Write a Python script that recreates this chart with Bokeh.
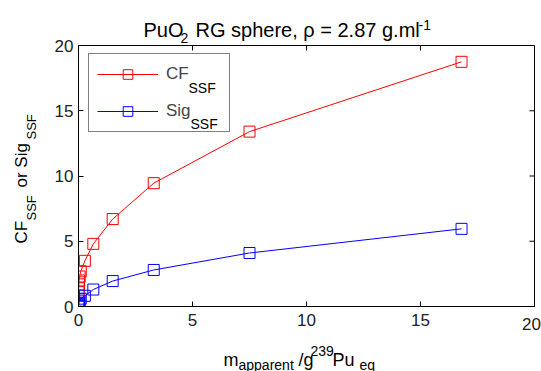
import math
from bokeh.plotting import figure
from bokeh.models import Range1d, FixedTicker, Legend, LegendItem
from bokeh.embed import file_html
from bokeh.resources import INLINE
from bokeh.core.properties import value

# ---- data ----
mass = [0.005, 0.01, 0.02, 0.03, 0.05, 0.1, 0.28, 0.65, 1.5, 3.3, 7.5, 16.8]
cf_ssf = [1.1, 1.4, 1.7, 2.0, 2.3, 2.7, 3.5, 4.8, 6.7, 9.45, 13.4, 18.75]
sig_ssf = [0.03, 0.1, 0.2, 0.3, 0.45, 0.6, 0.82, 1.3, 1.95, 2.8, 4.1, 5.95]
ticks = [0, 5, 10, 15, 20]
x_lo, x_hi = 0, 20
y_lo, y_hi = 0, 20

FONT = "Liberation Sans"
FL, FB = 78, 306  # frame left / bottom in page pixels

p = figure(width=541, height=371, output_backend="svg", toolbar_location=None,
           x_range=Range1d(x_lo, x_hi), y_range=Range1d(y_lo, y_hi), title=None,
           min_border_left=78, min_border_right=7, min_border_top=45,
           min_border_bottom=65, background_fill_color="white",
           border_fill_color="white")
p.grid.visible = False
p.outline_line_color = "black"
p.outline_line_width = 1

for ax in (p.xaxis[0], p.yaxis[0]):
    ax.ticker = FixedTicker(ticks=ticks)
    ax.major_tick_in = 5
    ax.major_tick_out = 0
    ax.minor_tick_line_color = None
    ax.axis_line_color = "black"
    ax.major_tick_line_color = "black"
    ax.major_label_text_font = FONT
    ax.major_label_text_font_size = "17px"
    ax.major_label_text_color = "#222222"
p.xaxis[0].major_label_standoff = 7
p.yaxis[0].major_label_standoff = 5
# the last x tick label is drawn separately so it may hang over the frame edge
p.xaxis[0].major_label_overrides = {x_hi: ""}

# inward ticks on the top and right edges (box on)
p.ray(x=ticks, y=[y_hi] * len(ticks), length=5, length_units="screen",
      angle=-math.pi / 2, line_color="black", line_width=1)
p.ray(x=[x_hi] * len(ticks), y=ticks, length=5, length_units="screen",
      angle=math.pi, line_color="black", line_width=1)

red = "#ff0000"
blue = "#0000ff"
l1 = p.line(mass, cf_ssf, line_color=red, line_width=1)
s1 = p.scatter(mass, cf_ssf, marker="square", size=11, line_color=red,
               fill_color=None, line_width=1)
l2 = p.line(mass, sig_ssf, line_color=blue, line_width=1)
s2 = p.scatter(mass, sig_ssf, marker="square", size=11, line_color=blue,
               fill_color=None, line_width=1)

legend = Legend(items=[LegendItem(label="CF", renderers=[l1, s1]),
                       LegendItem(label="Sig", renderers=[l2, s2])],
                location=(10, FB - 132), padding=8, spacing=13,
                glyph_width=61, glyph_height=24, label_height=24,
                label_standoff=8, label_width=55,
                label_text_font=FONT, label_text_font_size="17px",
                border_line_color="black", border_line_width=1,
                background_fill_alpha=0, margin=0)
p.add_layout(legend)


def txt(t, px, py, size, angle=0.0):
    # anchored at the frame's bottom-left corner, offset in page pixels
    p.text(x=[x_lo], y=[y_lo], text=[t], x_offset=px - FL, y_offset=py - FB,
           text_font=value(FONT), text_font_size=value(f"{size}px"),
           text_align="left", text_baseline="alphabetic", angle=angle,
           text_color="black", level="overlay")


# last x tick label "20"
p.text(x=[x_hi], y=[y_lo], text=[str(x_hi)], x_offset=-3, y_offset=17,
       text_font=value(FONT), text_font_size=value("17px"), text_align="center",
       text_baseline="alphabetic", text_color="#222222", level="overlay")

# title: PuO2 RG sphere, rho = 2.87 g.ml-1
txt("PuO", 143, 29, 20)
txt("2", 180, 37, 14)
txt("RG sphere, \u03c1 = 2.87 g.ml", 195, 29, 20)
txt("-1", 418, 24, 14)

# x label: m_apparent / g^239 Pu_eq
txt("m", 223, 359, 18)
txt("apparent", 238, 364, 14)
txt("/g", 298, 359, 18)
txt("239", 310, 350, 14)
txt("Pu", 332, 359, 18)
txt("eq", 359, 364, 14)

# y label: CF_SSF or Sig_SSF (rotated)
up = math.pi / 2
txt("CF", 21, 243, 17, up)
txt("SSF", 31, 220, 13, up)
txt("or Sig", 21, 187, 17, up)
txt("SSF", 31, 139, 13, up)

# legend subscripts
txt("SSF", 188, 87, 14)
txt("SSF", 190, 123, 14)

open("out.html", "w").write(file_html(p, INLINE))
